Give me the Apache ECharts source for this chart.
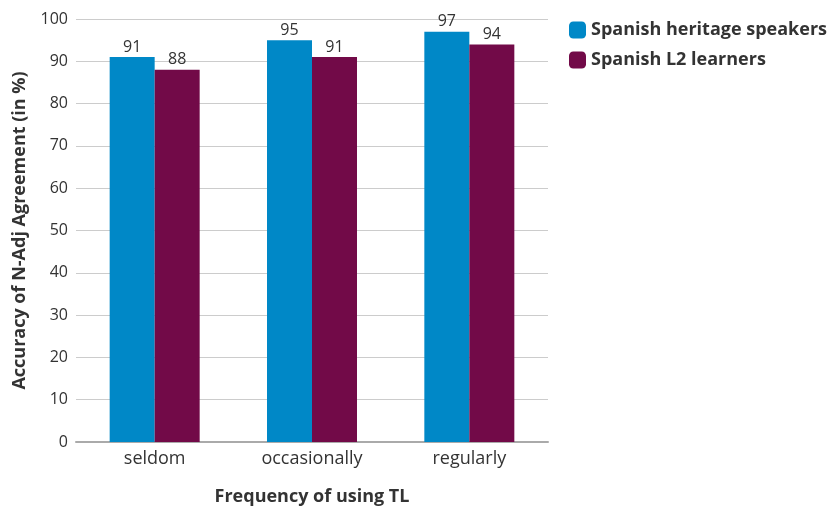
<!DOCTYPE html>
<html>
<head>
<meta charset="utf-8">
<script src="https://cdn.jsdelivr.net/npm/echarts@6/dist/echarts.min.js"></script>
<style>
  html, body { margin: 0; padding: 0; background: #fff; }
  #chart { width: 834px; height: 507px; }
</style>
</head>
<body>
<div id="chart"></div>
<script>
// Accuracy of noun-adjective agreement by frequency of target-language use
const categories = ['seldom', 'occasionally', 'regularly'];
const heritageSpeakers = [91, 95, 97];
const l2Learners = [88, 91, 94];
const yTicks = { min: 0, max: 100, interval: 10 };

const FONT = '"Open Sans", "Noto Sans", sans-serif';
const chart = echarts.init(document.getElementById('chart'), null, { renderer: 'canvas' });

const labelStyle = {
  show: true,
  position: 'top',
  distance: 2,
  color: '#333',
  fontFamily: FONT,
  fontSize: 16
};

chart.setOption({
  animation: false,
  textStyle: { fontFamily: FONT },
  grid: { left: 76, right: 286, top: 19, bottom: 65, outerBoundsMode: 'none', containLabel: false },
  legend: {
    orient: 'vertical',
    left: 564,
    top: 16,
    itemWidth: 17,
    itemHeight: 17,
    itemGap: 12,
    icon: 'roundRect',
    textStyle: { fontFamily: FONT, fontSize: 18, fontWeight: 'bold', color: '#333' },
    data: ['Spanish heritage speakers', 'Spanish L2 learners']
  },
  xAxis: {
    type: 'category',
    data: categories,
    name: 'Frequency of using TL',
    nameLocation: 'middle',
    nameGap: 46,
    nameTextStyle: { fontFamily: FONT, fontSize: 18, fontWeight: 'bold', color: '#333' },
    axisLine: { lineStyle: { color: '#aaa', width: 2 } },
    axisTick: { show: false },
    axisLabel: { fontFamily: FONT, fontSize: 18, color: '#333', margin: 8 }
  },
  yAxis: {
    type: 'value',
    min: yTicks.min,
    max: yTicks.max,
    interval: yTicks.interval,
    name: 'Accuracy of N-Adj Agreement (in %)',
    nameLocation: 'middle',
    nameGap: 47,
    nameRotate: 90,
    nameTextStyle: { fontFamily: FONT, fontSize: 18, fontWeight: 'bold', color: '#333' },
    axisLine: { show: false },
    axisTick: { show: false },
    axisLabel: { fontFamily: FONT, fontSize: 16, color: '#333', margin: 8 },
    splitLine: { lineStyle: { color: '#ccc', width: 1 } }
  },
  series: [
    {
      name: 'Spanish heritage speakers',
      type: 'bar',
      data: heritageSpeakers,
      barWidth: 45,
      barGap: '0%',
      itemStyle: { color: '#0088c7' },
      label: labelStyle
    },
    {
      name: 'Spanish L2 learners',
      type: 'bar',
      data: l2Learners,
      barWidth: 45,
      itemStyle: { color: '#720a48' },
      label: labelStyle
    }
  ]
});
</script>
</body>
</html>
